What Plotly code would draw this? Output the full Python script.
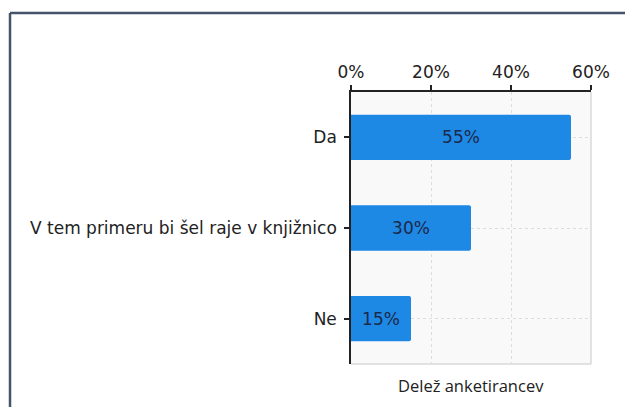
import plotly.graph_objects as go

categories = ["Da", "V tem primeru bi šel raje v knjižnico", "Ne"]
values = [55, 30, 15]
labels = ["55%", "30%", "15%"]
x_ticks = [0, 20, 40, 60]
x_tick_labels = ["0%", "20%", "40%", "60%"]
x_title = "Delež anketirancev"

fig = go.Figure(go.Bar(
    x=values, y=categories, orientation="h",
    marker=dict(color="#1E88E5", line=dict(width=0)),
    width=0.5,
    text=labels, textposition="inside", insidetextanchor="middle",
    textfont=dict(family="DejaVu Sans", size=17, color="#1B2A4A"),
    hoverinfo="skip",
))

fig.update_layout(
    width=625, height=407,
    margin=dict(l=351, r=34, t=92, b=43),
    paper_bgcolor="white", plot_bgcolor="#F9F9F9",
    showlegend=False,
    barcornerradius=2,
    uniformtext=dict(minsize=8, mode="show"),
    font=dict(family="DejaVu Sans", color="#222222"),
    xaxis=dict(
        side="top", range=[0, 60], tickvals=x_ticks, ticktext=x_tick_labels,
        tickfont=dict(size=17, color="#222222"),
        ticks="outside", ticklen=5, tickcolor="#222222", tickwidth=1.5,
        showline=True, linecolor="#222222", linewidth=1.5,
        showgrid=True, gridcolor="#DDDDDD", griddash="dot", gridwidth=1,
        zeroline=False, fixedrange=True,
    ),
    yaxis=dict(
        autorange=False, range=[2.5, -0.5],
        tickfont=dict(size=17, color="#222222"),
        ticks="outside", ticklen=5, tickcolor="#222222", tickwidth=1.5,
        ticklabelstandoff=4,
        showline=True, linecolor="#222222", linewidth=1.5,
        showgrid=True, gridcolor="#DDDDDD", griddash="dot", gridwidth=1,
        zeroline=False, fixedrange=True,
    ),
    annotations=[dict(
        text=x_title, xref="paper", yref="paper", x=0.5, y=-0.08,
        xanchor="center", yanchor="middle", showarrow=False,
        font=dict(family="Open Sans", size=16.5, color="#222222"),
    )],
    shapes=[
        dict(type="line", xref="paper", yref="paper", x0=1, x1=1, y0=0, y1=1,
             line=dict(color="#D9D9D9", width=1.5), layer="below"),
        dict(type="line", xref="paper", yref="paper", x0=0, x1=1, y0=0, y1=0,
             line=dict(color="#D9D9D9", width=1.5), layer="below"),
        dict(type="line", xref="paper", yref="paper", x0=-1.4208, x1=-1.4208, y0=1.2904, y1=-0.3,
             line=dict(color="#44546A", width=2.5)),
        dict(type="line", xref="paper", yref="paper", x0=-1.4208, x1=1.3, y0=1.2904, y1=1.2904,
             line=dict(color="#44546A", width=2.5)),
    ],
)

fig.write_html("out.html", config={"displayModeBar": False},
               post_script="document.body.style.margin='0';document.body.style.overflow='hidden';")
